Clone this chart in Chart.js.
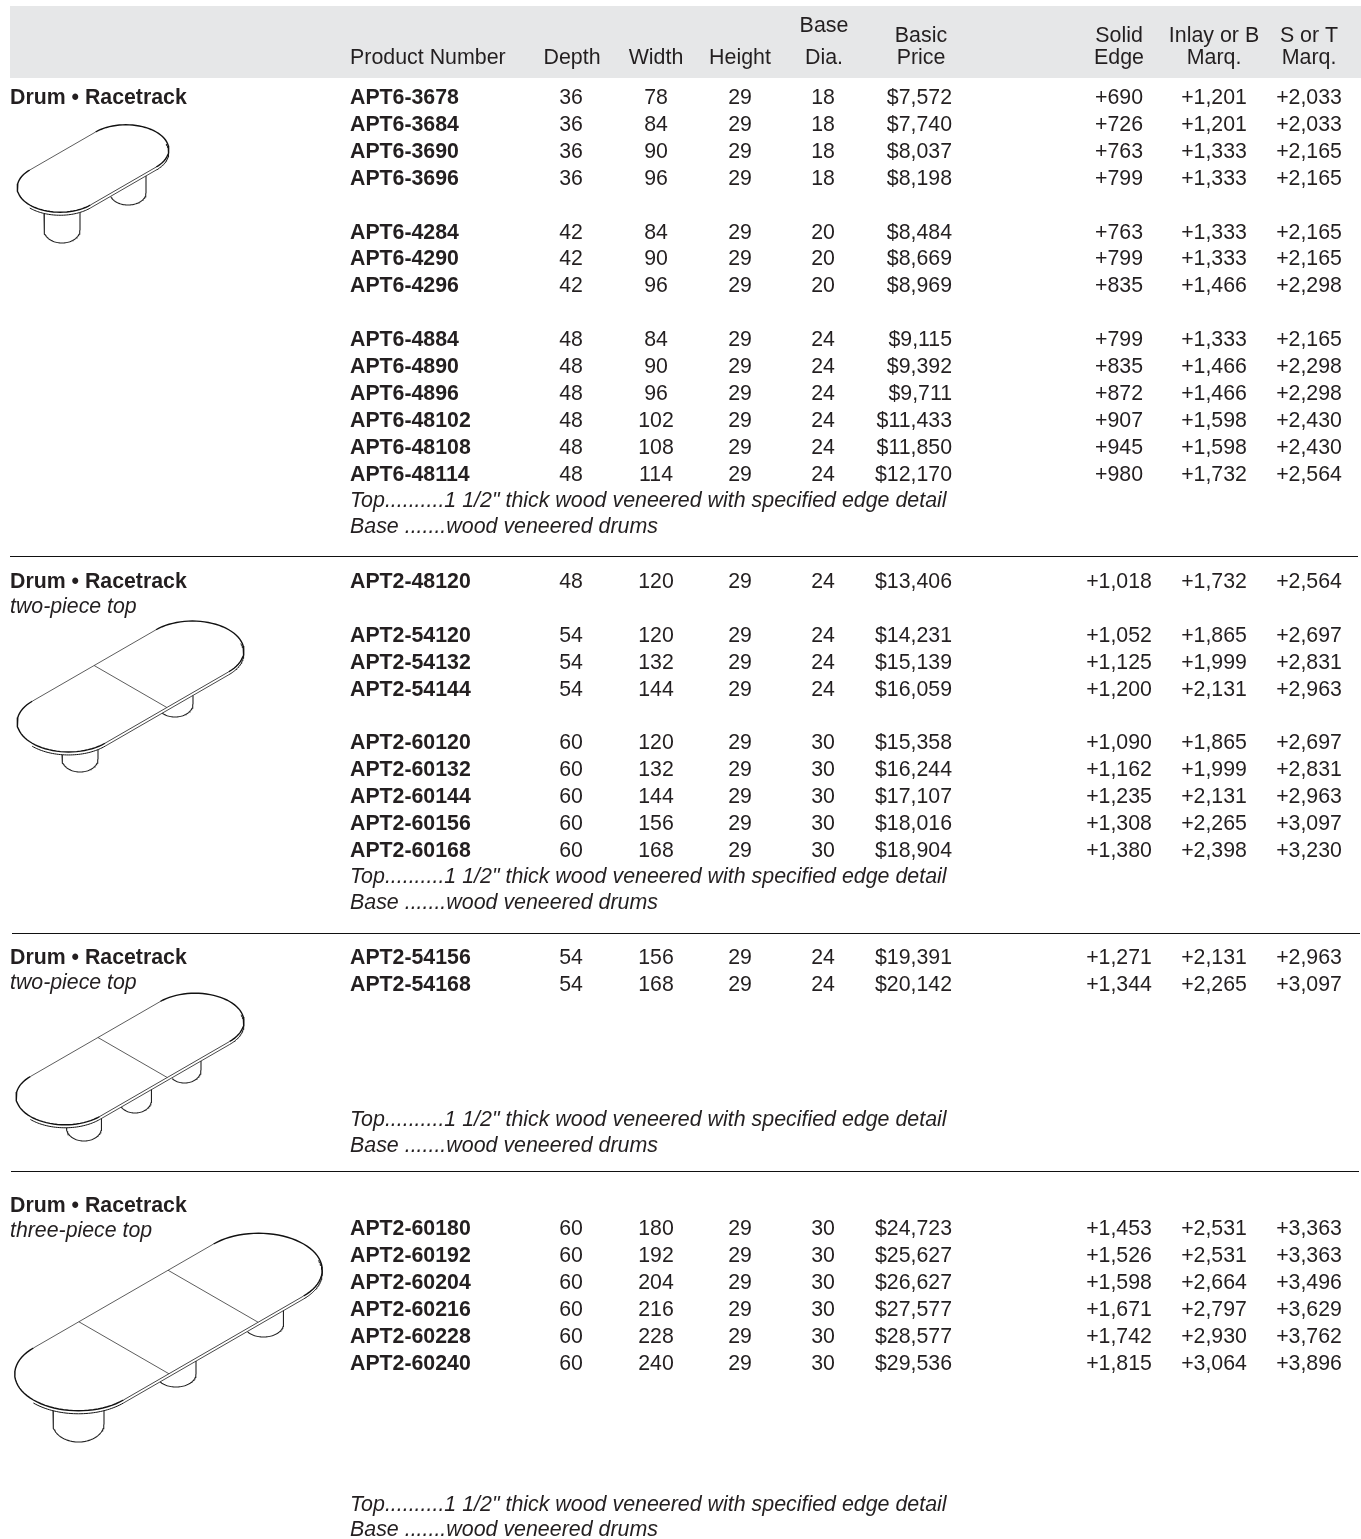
<!DOCTYPE html>
<html><head><meta charset="utf-8">
<style>html,body{margin:0;padding:0;background:#fff}canvas{display:block}</style>
<script src="https://cdn.jsdelivr.net/npm/chart.js@4"></script>
</head><body>
<canvas id="c" width="1361" height="1539" style="width:1361px;height:1539px"></canvas>
<script>
const productNumbers=["APT6-3678","APT6-3684","APT6-3690","APT6-3696","APT6-4284","APT6-4290","APT6-4296","APT6-4884","APT6-4890","APT6-4896","APT6-48102","APT6-48108","APT6-48114","APT2-48120","APT2-54120","APT2-54132","APT2-54144","APT2-60120","APT2-60132","APT2-60144","APT2-60156","APT2-60168","APT2-54156","APT2-54168","APT2-60180","APT2-60192","APT2-60204","APT2-60216","APT2-60228","APT2-60240"];
const depths=[36,36,36,36,42,42,42,48,48,48,48,48,48,48,54,54,54,60,60,60,60,60,54,54,60,60,60,60,60,60];
const widths=[78,84,90,96,84,90,96,84,90,96,102,108,114,120,120,132,144,120,132,144,156,168,156,168,180,192,204,216,228,240];
const heights=[29,29,29,29,29,29,29,29,29,29,29,29,29,29,29,29,29,29,29,29,29,29,29,29,29,29,29,29,29,29];
const baseDias=[18,18,18,18,20,20,20,24,24,24,24,24,24,24,24,24,24,30,30,30,30,30,24,24,30,30,30,30,30,30];
const basicPrices=[7572,7740,8037,8198,8484,8669,8969,9115,9392,9711,11433,11850,12170,13406,14231,15139,16059,15358,16244,17107,18016,18904,19391,20142,24723,25627,26627,27577,28577,29536];
const solidEdge=[690,726,763,799,763,799,835,799,835,872,907,945,980,1018,1052,1125,1200,1090,1162,1235,1308,1380,1271,1344,1453,1526,1598,1671,1742,1815];
const inlayMarq=[1201,1201,1333,1333,1333,1333,1466,1333,1466,1466,1598,1598,1732,1732,1865,1999,2131,1865,1999,2131,2265,2398,2131,2265,2531,2531,2664,2797,2930,3064];
const sOrTMarq=[2033,2033,2165,2165,2165,2165,2298,2165,2298,2298,2430,2430,2564,2564,2697,2831,2963,2697,2831,2963,3097,3230,2963,3097,3363,3363,3496,3629,3762,3896];
const headerLabels=["Product Number","Depth","Width","Height","Base","Dia.","Basic","Price","Solid","Edge","Inlay or B","Marq.","S or T","Marq."];
const groupTitles=["Drum • Racetrack","Drum • Racetrack","Drum • Racetrack","Drum • Racetrack"];
const groupSubtitles=["two-piece top","two-piece top","three-piece top"];
const noteTop='Top..........1 1/2" thick wood veneered with specified edge detail';
const noteBase='Base .......wood veneered drums';

// layout
const rowY=[97,124,151,178,232,258,285,339,366,393,420,447,474,581,635,662,689,742,769,796,823,850,957,984,1228,1255,1282,1309,1336,1363];
const headerX=[350,572,656,740,824,824,921,921,1119,1119,1214,1214,1309,1309];
const headerY=[57,57,57,57,25,57,35,57,35,57,35,57,35,57];
const headerAlign=["left","center","center","center","center","center","center","center","center","center","center","center","center","center"];
const titleY=[97,581,957,1205], subtitleY=[606,982,1230];
const noteTopY=[500,876,1119,1504], noteBaseY=[526,902,1145,1529];
const dividers=[[10,1358,556.5],[12,1360,933.5],[11,1359,1171.5]];
const FS=21.3, FF='"Liberation Sans", Arial, sans-serif', INK='#231f20';
const money=n=>'$'+n.toLocaleString('en-US'), plus=n=>'+'+n.toLocaleString('en-US');

const textSets=[];
function col(x,texts,ys,align,style,size){
  textSets.push({type:'scatter',data:texts.map((_,i)=>({x,y:ys[i]})),texts,align,textStyle:style||'',textSize:size||FS,pointRadius:0,pointHoverRadius:0,showLine:false});
}
col(350,productNumbers,rowY,'left','bold');
col(571,depths,rowY,'center');
col(656,widths,rowY,'center');
col(740,heights,rowY,'center');
col(823,baseDias,rowY,'center');
col(952,basicPrices.map(money),rowY,'right');
col(1119,solidEdge.map(plus),rowY,'center');
col(1214,inlayMarq.map(plus),rowY,'center');
col(1309,sOrTMarq.map(plus),rowY,'center');
headerLabels.forEach((t,i)=>col(headerX[i],[t],[headerY[i]],headerAlign[i],'',21.4));
col(10,groupTitles,titleY,'left','bold');
col(10,groupSubtitles,subtitleY,'left','italic');
col(350,noteTopY.map(()=>noteTop),noteTopY,'left','italic',21.4);
col(350,noteBaseY.map(()=>noteBase),noteBaseY,'left','italic',21.4);

// line drawings of the tables (isometric racetrack tops on drum bases)
const tables=[
 {cx:93,cy:168.5,a:38,r:35,seams:[],legs:[[62,18,230,243],[128,18,193,205]]},
 {cx:130.5,cy:686.5,a:71.5,r:42,seams:[0],legs:[[80,18,759,772],[175,18,704,717]]},
 {cx:130,cy:1059,a:75,r:40,seams:[3],legs:[[84,17.5,1128,1141],[135,16.5,1100,1113],[184.5,16.5,1070,1083]]},
 {cx:168.5,cy:1322,a:104,r:52,seams:[51.5,-51.5],legs:[[78.5,25.5,1424,1442],[176,20,1374,1387],[263.5,20,1324,1337]]}
];
const C=Math.cos(Math.PI/6),S=0.5;
function lineSet(pts,w,color){
  return {type:'scatter',data:pts,showLine:true,pointRadius:0,pointHoverRadius:0,borderColor:color||'#111',borderWidth:w,tension:0,fill:false,spanGaps:false};
}
const drawings=[];
tables.forEach(t=>{
  const P=(u,v,dy=0)=>({x:t.cx+(u+v)*C,y:t.cy+(v-u)*S+dy});
  const arc=(sign,from,to,dy=0)=>{const o=[];const n=40;for(let i=0;i<=n;i++){const d=(from+(to-from)*i/n)*Math.PI/180;o.push(P(sign*(t.a+t.r*Math.cos(d)),t.r*Math.sin(d),dy));}return o;};
  // legs clipped by the lower envelope of the top
  const lower=[...arc(-1,90,0,3),...arc(-1,0,-90,0),P(t.a,t.r,3),P(-t.a,t.r,3),...arc(1,90,20,3),...arc(1,-90,90,0)];
  const env=x=>{let m=-1e9;for(let i=0;i<lower.length-1;i++){const p=lower[i],q=lower[i+1];if(Math.min(p.x,q.x)<=x&&x<=Math.max(p.x,q.x)&&p.x!==q.x){const y=p.y+(q.y-p.y)*(x-p.x)/(q.x-p.x);if(y>m)m=y;}}return m;};
  t.legs.forEach(([lx,rx,ys,yb])=>{
    const pts=[{x:lx-rx,y:ys-40},{x:lx-rx,y:ys}];
    for(let i=1;i<=48;i++){const d=Math.PI*i/48;pts.push({x:lx-rx*Math.cos(d),y:ys+(yb-ys)*Math.sin(d)});}
    pts.push({x:lx+rx,y:ys-40});
    const vis=[];
    for(let i=0;i<pts.length;i++){
      const p=pts[i];
      if(i===0||i===pts.length-1){const q=i===0?pts[1]:pts[pts.length-2];const e=env(q.x);if(e<q.y-0.5)vis.push({x:q.x,y:e});continue;}
      if(p.y>env(p.x))vis.push(p);
    }
    drawings.push(lineSet(vis,1.1,'#222'));
  });
  // top: ends, long edges, thickness lines, seams
  drawings.push(lineSet(arc(1,-90,90),1.4));
  drawings.push(lineSet(arc(-1,-90,90),1.4));
  drawings.push(lineSet([P(-t.a,-t.r),P(t.a,-t.r)],0.8,'#333'));
  drawings.push(lineSet([P(t.a,t.r),P(-t.a,t.r)],0.9,'#333'));
  drawings.push(lineSet([P(t.a,t.r,3),P(-t.a,t.r,3)],0.9,'#333'));
  drawings.push(lineSet(arc(-1,90,0,3),1.0));
  drawings.push(lineSet(arc(1,90,25,3),1.0));
  t.seams.forEach(u=>drawings.push(lineSet([P(u,-t.r),P(u,t.r)],0.8,'#333')));
});
const rules=dividers.map(([a,b,y])=>lineSet([{x:a,y},{x:b,y}],1,'#111'));

const bandPlugin={id:'band',beforeDatasetsDraw(ch){
  const {x,y}=ch.scales,c=ch.ctx;
  c.save();c.fillStyle='#e6e7e8';
  const l=x.getPixelForValue(10),t=y.getPixelForValue(6);
  c.fillRect(l,t,x.getPixelForValue(1361)-l,y.getPixelForValue(78)-t);
  c.restore();
}};
const textPlugin={id:'celltext',afterDatasetsDraw(ch){
  const c=ch.ctx;c.save();c.fillStyle=INK;c.textBaseline='middle';
  ch.data.datasets.forEach((d,i)=>{
    if(!d.texts)return;
    const m=ch.getDatasetMeta(i);
    c.font=(d.textStyle?d.textStyle+' ':'')+d.textSize+'px '+FF;
    c.textAlign=d.align;
    d.texts.forEach((t,k)=>c.fillText(String(t),m.data[k].x,m.data[k].y+1.5));
  });
  c.restore();
}};
new Chart(document.getElementById('c'),{
  type:'scatter',
  data:{datasets:[...rules,...drawings,...textSets]},
  plugins:[bandPlugin,textPlugin],
  options:{responsive:false,animation:false,devicePixelRatio:1,
    layout:{padding:0},
    events:[],
    plugins:{legend:{display:false},title:{display:false},tooltip:{enabled:false}},
    scales:{
      x:{type:'linear',min:0,max:1361,display:false},
      y:{type:'linear',min:0,max:1539,reverse:true,display:false}
    }}
});
</script>
</body></html>
